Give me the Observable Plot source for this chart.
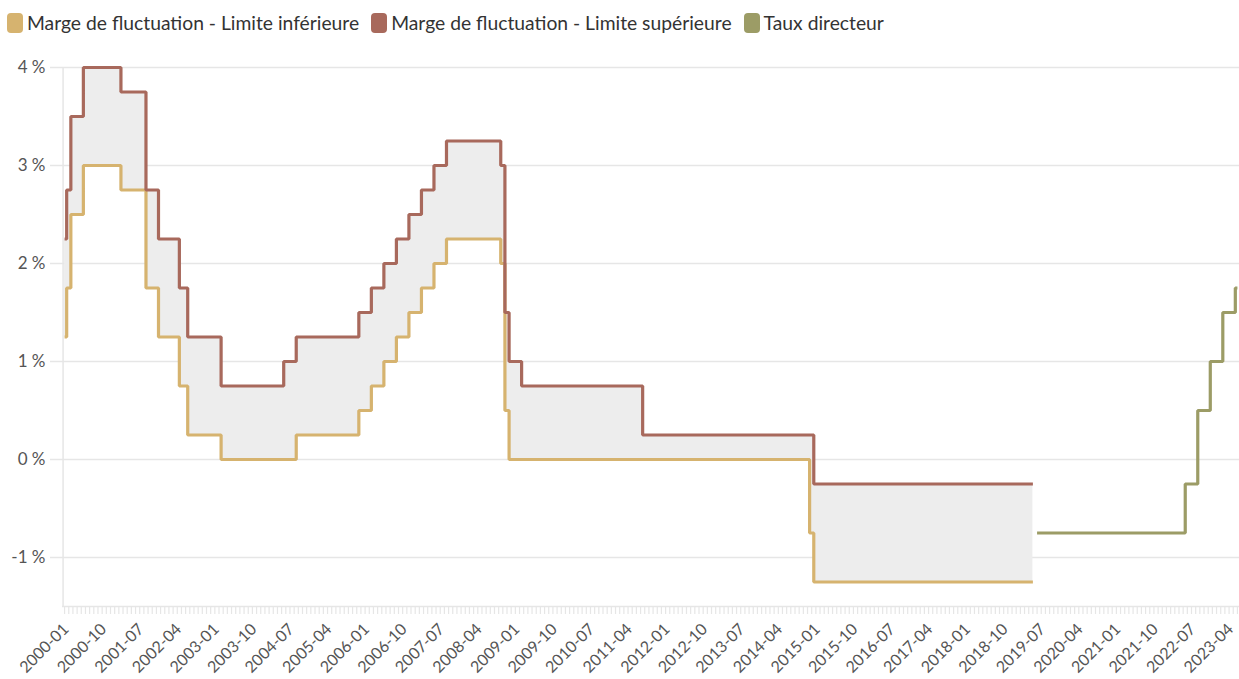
<!DOCTYPE html>
<html>
<head>
<meta charset="utf-8">
<script src="https://cdn.jsdelivr.net/npm/d3@7"></script>
<script src="https://cdn.jsdelivr.net/npm/@observablehq/plot@0.6"></script>
<style>
  body { margin: 0; background: #fff; font-family: Lato, "Noto Sans", sans-serif; }
  #legend { height: 45px; display: flex; align-items: center; padding-left: 7px; box-sizing: border-box; font-size: 19.3px; color: #333; }
  .item { display: flex; align-items: center; margin-right: 12px; }
  .sw { width: 16px; height: 20px; border-radius: 4px; margin-right: 4px; }
  #chart svg { display: block; }
</style>
</head>
<body>
<div id="legend"></div>
<div id="chart"></div>
<script>
// Series names and colours
const seriesNames = ["Marge de fluctuation - Limite inférieure", "Marge de fluctuation - Limite supérieure", "Taux directeur"];
const seriesColors = ["#d6b36f", "#a8695c", "#9c9c66"];

// Monthly categories 2000-01 .. 2023-06
const firstYear = 2000, lastYear = 2023, lastMonth = 6;
const months = [];
for (let y = firstYear; y <= lastYear; y++) {
  for (let m = 1; m <= 12; m++) {
    if (y === lastYear && m > lastMonth) break;
    months.push(`${y}-${String(m).padStart(2, "0")}`);
  }
}

// Labelled ticks
const tickLabels = ["2000-01","2000-10","2001-07","2002-04","2003-01","2003-10","2004-07","2005-04","2006-01","2006-10","2007-07","2008-04","2009-01","2009-10","2010-07","2011-04","2012-01","2012-10","2013-07","2014-04","2015-01","2015-10","2016-07","2017-04","2018-01","2018-10","2019-07","2020-04","2021-01","2021-10","2022-07","2023-04"];
const yTicks = [-1, 0, 1, 2, 3, 4];

// Fluctuation band, monthly from 2000-01 to 2019-05
const lower = [
  1.25, 1.75, 2.5, 2.5, 2.5, 3, 3, 3, 3, 3, 3, 3,                 // 2000
  3, 3, 2.75, 2.75, 2.75, 2.75, 2.75, 2.75, 1.75, 1.75, 1.75, 1.25, // 2001
  1.25, 1.25, 1.25, 1.25, 0.75, 0.75, 0.25, 0.25, 0.25, 0.25, 0.25, 0.25, // 2002
  0.25, 0.25, 0, 0, 0, 0, 0, 0, 0, 0, 0, 0,                       // 2003
  0, 0, 0, 0, 0, 0, 0, 0, 0.25, 0.25, 0.25, 0.25,                 // 2004
  0.25, 0.25, 0.25, 0.25, 0.25, 0.25, 0.25, 0.25, 0.25, 0.25, 0.25, 0.5, // 2005
  0.5, 0.5, 0.75, 0.75, 0.75, 1, 1, 1, 1.25, 1.25, 1.25, 1.5,     // 2006
  1.5, 1.5, 1.75, 1.75, 1.75, 2, 2, 2, 2.25, 2.25, 2.25, 2.25,    // 2007
  2.25, 2.25, 2.25, 2.25, 2.25, 2.25, 2.25, 2.25, 2.25, 2, 0.5, 0, // 2008
  0, 0, 0, 0, 0, 0, 0, 0, 0, 0, 0, 0,                             // 2009
  0, 0, 0, 0, 0, 0, 0, 0, 0, 0, 0, 0,                             // 2010
  0, 0, 0, 0, 0, 0, 0, 0, 0, 0, 0, 0,                             // 2011
  0, 0, 0, 0, 0, 0, 0, 0, 0, 0, 0, 0,                             // 2012
  0, 0, 0, 0, 0, 0, 0, 0, 0, 0, 0, 0,                             // 2013
  0, 0, 0, 0, 0, 0, 0, 0, 0, 0, 0, -0.75,                         // 2014
  -1.25, -1.25, -1.25, -1.25, -1.25, -1.25, -1.25, -1.25, -1.25, -1.25, -1.25, -1.25, // 2015
  -1.25, -1.25, -1.25, -1.25, -1.25, -1.25, -1.25, -1.25, -1.25, -1.25, -1.25, -1.25, // 2016
  -1.25, -1.25, -1.25, -1.25, -1.25, -1.25, -1.25, -1.25, -1.25, -1.25, -1.25, -1.25, // 2017
  -1.25, -1.25, -1.25, -1.25, -1.25, -1.25, -1.25, -1.25, -1.25, -1.25, -1.25, -1.25, // 2018
  -1.25, -1.25, -1.25, -1.25, -1.25                               // 2019
];
const upper = [
  2.25, 2.75, 3.5, 3.5, 3.5, 4, 4, 4, 4, 4, 4, 4,                 // 2000
  4, 4, 3.75, 3.75, 3.75, 3.75, 3.75, 3.75, 2.75, 2.75, 2.75, 2.25, // 2001
  2.25, 2.25, 2.25, 2.25, 1.75, 1.75, 1.25, 1.25, 1.25, 1.25, 1.25, 1.25, // 2002
  1.25, 1.25, 0.75, 0.75, 0.75, 0.75, 0.75, 0.75, 0.75, 0.75, 0.75, 0.75, // 2003
  0.75, 0.75, 0.75, 0.75, 0.75, 1, 1, 1, 1.25, 1.25, 1.25, 1.25,  // 2004
  1.25, 1.25, 1.25, 1.25, 1.25, 1.25, 1.25, 1.25, 1.25, 1.25, 1.25, 1.5, // 2005
  1.5, 1.5, 1.75, 1.75, 1.75, 2, 2, 2, 2.25, 2.25, 2.25, 2.5,     // 2006
  2.5, 2.5, 2.75, 2.75, 2.75, 3, 3, 3, 3.25, 3.25, 3.25, 3.25,    // 2007
  3.25, 3.25, 3.25, 3.25, 3.25, 3.25, 3.25, 3.25, 3.25, 3, 1.5, 1, // 2008
  1, 1, 0.75, 0.75, 0.75, 0.75, 0.75, 0.75, 0.75, 0.75, 0.75, 0.75, // 2009
  0.75, 0.75, 0.75, 0.75, 0.75, 0.75, 0.75, 0.75, 0.75, 0.75, 0.75, 0.75, // 2010
  0.75, 0.75, 0.75, 0.75, 0.75, 0.75, 0.75, 0.25, 0.25, 0.25, 0.25, 0.25, // 2011
  0.25, 0.25, 0.25, 0.25, 0.25, 0.25, 0.25, 0.25, 0.25, 0.25, 0.25, 0.25, // 2012
  0.25, 0.25, 0.25, 0.25, 0.25, 0.25, 0.25, 0.25, 0.25, 0.25, 0.25, 0.25, // 2013
  0.25, 0.25, 0.25, 0.25, 0.25, 0.25, 0.25, 0.25, 0.25, 0.25, 0.25, 0.25, // 2014
  -0.25, -0.25, -0.25, -0.25, -0.25, -0.25, -0.25, -0.25, -0.25, -0.25, -0.25, -0.25, // 2015
  -0.25, -0.25, -0.25, -0.25, -0.25, -0.25, -0.25, -0.25, -0.25, -0.25, -0.25, -0.25, // 2016
  -0.25, -0.25, -0.25, -0.25, -0.25, -0.25, -0.25, -0.25, -0.25, -0.25, -0.25, -0.25, // 2017
  -0.25, -0.25, -0.25, -0.25, -0.25, -0.25, -0.25, -0.25, -0.25, -0.25, -0.25, -0.25, // 2018
  -0.25, -0.25, -0.25, -0.25, -0.25                               // 2019
];

// Policy rate, monthly from 2019-06 to 2023-06
const policyStart = "2019-06";
const policy = [
  -0.75, -0.75, -0.75, -0.75, -0.75, -0.75, -0.75,                // 2019 Jun-Dec
  -0.75, -0.75, -0.75, -0.75, -0.75, -0.75, -0.75, -0.75, -0.75, -0.75, -0.75, -0.75, // 2020
  -0.75, -0.75, -0.75, -0.75, -0.75, -0.75, -0.75, -0.75, -0.75, -0.75, -0.75, -0.75, // 2021
  -0.75, -0.75, -0.75, -0.75, -0.75, -0.25, -0.25, -0.25, 0.5, 0.5, 0.5, 1, // 2022
  1, 1, 1.5, 1.5, 1.5, 1.75                                       // 2023 Jan-Jun
];

// Build table for the library
const p0 = months.indexOf(policyStart);
const rows = months.map((m, i) => ({
  month: m,
  lower: i < lower.length ? lower[i] : NaN,
  upper: i < upper.length ? upper[i] : NaN,
  policy: i >= p0 ? policy[i - p0] : NaN
}));

// Legend
const legend = document.getElementById("legend");
seriesNames.forEach((n, i) => {
  const it = document.createElement("div");
  it.className = "item";
  it.innerHTML = `<span class="sw" style="background:${seriesColors[i]}"></span><span>${n}</span>`;
  legend.appendChild(it);
});

const grid = "#e6e6e6";
const lineStyle = { curve: "step", strokeWidth: 3.2, strokeLinejoin: "miter", strokeLinecap: "butt" };
const chart = Plot.plot({
  width: 1239,
  height: 634,
  marginLeft: 62,
  marginRight: 0,
  marginTop: 22,
  marginBottom: 73,
  style: { fontFamily: "Lato, 'Noto Sans', sans-serif", background: "#fff" },
  x: { type: "point", domain: months, axis: null },
  y: { domain: [-1.5, 4], axis: null },
  marks: [
    Plot.gridY(yTicks, { stroke: grid, strokeOpacity: 1, strokeWidth: 1.5 }),
    Plot.axisY(yTicks, { label: null, tickSize: 12, tickPadding: 5, stroke: grid, strokeOpacity: 1, strokeWidth: 1.5, fill: "#555", fontSize: 17, tickFormat: d => `${d} %` }),
    Plot.ruleX([months[0]], { stroke: grid, strokeWidth: 1.5, dx: -1.5 }),
    Plot.ruleY([-1.5], { stroke: grid, strokeWidth: 1.5 }),
    Plot.axisX(months, { label: null, tickSize: 8, stroke: grid, strokeOpacity: 1, strokeWidth: 1.2, tickFormat: () => "" }),
    Plot.areaY(rows, { x: "month", y1: "lower", y2: "upper", curve: "step", fill: "#ededed" }),
    Plot.lineY(rows, { x: "month", y: "lower", stroke: seriesColors[0], ...lineStyle }),
    Plot.lineY(rows, { x: "month", y: "upper", stroke: seriesColors[1], ...lineStyle }),
    Plot.lineY(rows, { x: "month", y: "policy", stroke: seriesColors[2], ...lineStyle }),
    Plot.axisX(tickLabels, { label: null, tickSize: 0, tickRotate: -45, tickPadding: 20, dx: 1.5, fill: "#555", fontSize: 16 })
  ]
});
document.getElementById("chart").appendChild(chart);
</script>
</body>
</html>
